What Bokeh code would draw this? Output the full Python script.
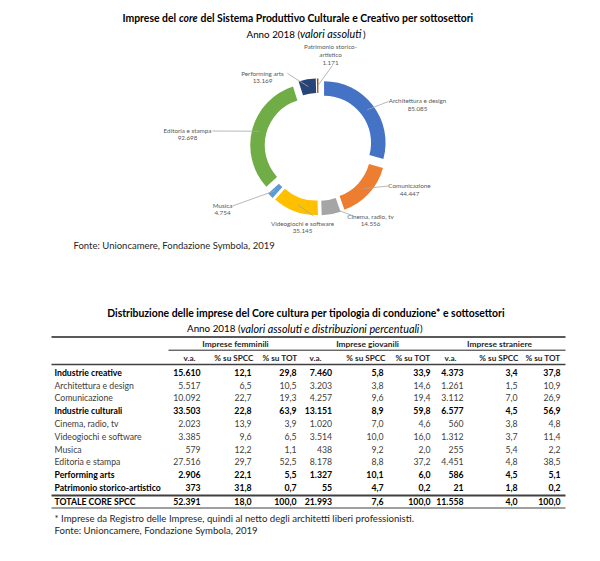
import numpy as np
from bokeh.plotting import figure
from bokeh.models import Range1d, ColumnDataSource
from bokeh.core.properties import value
from bokeh.embed import file_html
from bokeh.resources import INLINE

# ---------------- data: donut ----------------
sectors = ["Architettura e design", "Comunicazione", "Cinema, radio, tv",
           "Videogiochi e software", "Musica", "Editoria e stampa",
           "Performing arts", "Patrimonio storico-artistico"]
imprese = [85085, 44447, 14556, 35145, 4754, 92698, 13169, 1171]
imprese_lbl = ["85.085", "44.447", "14.556", "35.145", "4.754", "92.698", "13.169", "1.171"]

# ---------------- data: table ----------------
rows = ["Industrie creative", "Architettura e design", "Comunicazione",
        "Industrie culturali", "Cinema, radio, tv", "Videogiochi e software",
        "Musica", "Editoria e stampa", "Performing arts",
        "Patrimonio storico-artistico", "TOTALE CORE SPCC"]
row_bold = [True, False, False, True, False, False, False, False, True, True, True]
groups = ["Imprese femminili", "Imprese giovanili", "Imprese straniere"]
col_heads = ["v.a.", "% su SPCC", "% su TOT"]
fem_va = ["15.610", "5.517", "10.092", "33.503", "2.023", "3.385", "579", "27.516", "2.906", "373", "52.391"]
fem_spcc = ["12,1", "6,5", "22,7", "22,8", "13,9", "9,6", "12,2", "29,7", "22,1", "31,8", "18,0"]
fem_tot = ["29,8", "10,5", "19,3", "63,9", "3,9", "6,5", "1,1", "52,5", "5,5", "0,7", "100,0"]
gio_va = ["7.460", "3.203", "4.257", "13.151", "1.020", "3.514", "438", "8.178", "1.327", "55", "21.993"]
gio_spcc = ["5,8", "3,8", "9,6", "8,9", "7,0", "10,0", "9,2", "8,8", "10,1", "4,7", "7,6"]
gio_tot = ["33,9", "14,6", "19,4", "59,8", "4,6", "16,0", "2,0", "37,2", "6,0", "0,2", "100,0"]
str_va = ["4.373", "1.261", "3.112", "6.577", "560", "1.312", "255", "4.451", "586", "21", "11.558"]
str_spcc = ["3,4", "1,5", "7,0", "4,5", "3,8", "3,7", "5,4", "4,8", "4,5", "1,8", "4,0"]
str_tot = ["37,8", "10,9", "26,9", "56,9", "4,8", "11,4", "2,2", "38,5", "5,1", "0,2", "100,0"]

# ---------------- styles / layout ----------------
W, H = 600, 561
FONT = "Lato"
colors = ["#4472C4", "#ED7D31", "#A5A5A5", "#FFC000", "#5B9BD5", "#70AD47", "#264478", "#9E480E"]
LBL = "#595959"
TXT = "#404040"

p = figure(width=584, height=545, output_backend="svg", toolbar_location=None,
           x_range=Range1d(0, 584), y_range=Range1d(H - 545, H),
           min_border=0, outline_line_color=None)
p.axis.visible = False
p.grid.visible = False
p.background_fill_color = "white"


def Y(sy):
    return H - sy


def txt(x, y, s, size, bold=False, italic=False, align="left", color="#000000"):
    style = "bold" if bold else "normal"
    if italic:
        style = "bold italic" if bold else "italic"
    p.text(x=[x], y=[Y(y)], text=[s], text_font=value(FONT), text_font_size=f"{size}px",
           text_font_style=style, text_align=align, text_baseline="middle", text_color=color)


# ---------------- titles donut ----------------
txt(122, 17, "Imprese del", 10.4, bold=True)
txt(178.5, 17, "core", 10.4, bold=True, italic=True)
txt(200, 17, "del Sistema Produttivo Culturale e Creativo per sottosettori", 10.4, bold=True)
txt(299.5, 33, "Anno 2018 (", 9.8, align="right")
txt(299.5, 33, "valori assoluti", 10.8, italic=True)
txt(362.5, 33, ")", 9.8)

# ---------------- donut ----------------
cx, cy = 318.0, 146.5
r_in, r_out, explode = 47.0, 61.5, 7.0
vals = np.array(imprese, dtype=float)
frac = vals / vals.sum()
ce = np.cumsum(frac)
cs = ce - frac
start = np.pi / 2 - 2 * np.pi * cs
end = np.pi / 2 - 2 * np.pi * ce
mid = (start + end) / 2
wx = cx + explode * np.cos(mid)
wy = Y(cy) + explode * np.sin(mid)
src = ColumnDataSource(dict(x=wx, y=wy, start=start, end=end, color=colors, name=sectors))
p.annular_wedge(x="x", y="y", inner_radius=r_in, outer_radius=r_out,
                start_angle="start", end_angle="end", direction="clock",
                fill_color="color", line_color=None, source=src)

# labels (positions are layout only)
lbl_pos = [(417, 100), (409, 185), (370, 215.5), (302, 222.5), (222, 204.5), (187, 129.5), (262, 72.5), (330, 46)]
lead_out = [(388, 101), (388, 185.5), (353, 215.5), (313, 215.5), (232, 205.5), (212, 130.5), (287, 73), (332, 65)]
rm = (r_in + r_out) / 2 + explode
lead_in_x = cx + rm * np.cos(mid)
lead_in_y = Y(cy) + rm * np.sin(mid)
p.segment(x0=[a for a, b in lead_out], y0=[Y(b) for a, b in lead_out],
          x1=lead_in_x, y1=lead_in_y, line_color="#A6A6A6", line_width=0.8)
for i, (lx, ly) in enumerate(lbl_pos):
    name = sectors[i]
    if name == "Patrimonio storico-artistico":
        lines = ["Patrimonio storico-", "artistico", imprese_lbl[i]]
    else:
        lines = [name, imprese_lbl[i]]
    for k, s in enumerate(lines):
        txt(lx, ly + k * 8.0, s, 6.3, align="center", color=LBL)

txt(73, 245, "Fonte: Unioncamere, Fondazione Symbola, 2019", 9.5, color="#262626")

# ---------------- table ----------------
txt(305.5, 312, "Distribuzione delle imprese del Core cultura per tipologia di conduzione* e sottosettori",
    10.4, bold=True, align="center")
txt(240, 327.5, "Anno 2018 (", 9.8, align="right")
txt(240, 327.5, "valori assoluti e distribuzioni percentuali", 10.8, italic=True)
txt(419.5, 327.5, ")", 9.8)

x_left, x_right = 51, 565
p.segment(x0=[x_left], y0=[Y(336.5)], x1=[x_right], y1=[Y(336.5)], line_color="#595959", line_width=2)
p.segment(x0=[168], y0=[Y(349.7)], x1=[x_right], y1=[Y(349.7)], line_color="#262626", line_width=1)
p.segment(x0=[x_left], y0=[Y(364)], x1=[x_right], y1=[Y(364)], line_color="#404040", line_width=1.5)
p.segment(x0=[x_left], y0=[Y(495)], x1=[x_right], y1=[Y(495)], line_color="#404040", line_width=2)
p.segment(x0=[x_left], y0=[Y(507.5)], x1=[x_right], y1=[Y(507.5)], line_color="#7f7f7f", line_width=1.5)

group_cx = [235, 367, 499]
for g, gx in zip(groups, group_cx):
    txt(gx, 343, g, 8.4, bold=True, align="center", color="#262626")
head_x = [(189, "center"), (253, "right"), (297, "right"),
          (315, "center"), (385, "right"), (430, "right"),
          (450, "center"), (518, "right"), (560, "right")]
for j, (hx, al) in enumerate(head_x):
    txt(hx, 357.5, col_heads[j % 3], 8.2, bold=True, align=al, color="#262626")

cols = [fem_va, fem_spcc, fem_tot, gio_va, gio_spcc, gio_tot, str_va, str_spcc, str_tot]
col_right = [200, 251, 296, 331.5, 383, 430, 463, 517, 560]
row_y = [371.7 + i * 12.8 for i in range(10)] + [501]
for i, rname in enumerate(rows):
    b = row_bold[i]
    c = "#000000" if b else TXT
    txt(54, row_y[i], rname, 8.7, bold=b, color=c)
    for j, col in enumerate(cols):
        txt(col_right[j], row_y[i], col[i], 8.7, bold=b, align="right", color=c)

txt(54, 517.5, "* Imprese da Registro delle Imprese, quindi al netto degli architetti liberi professionisti.",
    9.6, color="#262626")
txt(54, 529.5, "Fonte: Unioncamere, Fondazione Symbola, 2019", 9.6, color="#262626")

open("out.html", "w").write(file_html(p, INLINE))
